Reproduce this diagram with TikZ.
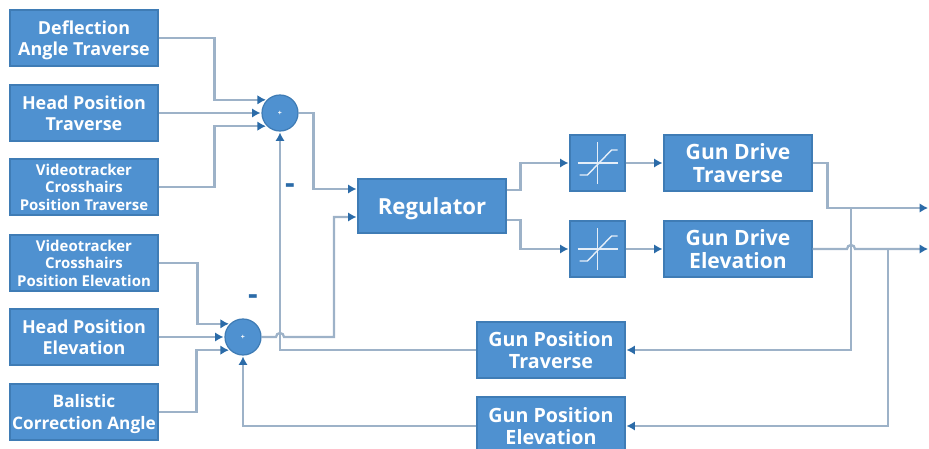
\documentclass[tikz,border=0pt]{standalone}
\usepackage{fontspec}
\setmainfont{Open Sans}
\usetikzlibrary{arrows.meta,calc}
\definecolor{blockfill}{HTML}{4F91D0}
\definecolor{blockedge}{HTML}{3F7CB5}
\definecolor{wire}{HTML}{9DB2C8}
\definecolor{tip}{HTML}{2B6BA8}
\tikzset{
  blockbox/.style={draw=blockedge,fill=blockfill,line width=0.7pt,text=white,align=center,minimum width=2.96cm,minimum height=1.12cm,inner sep=0pt,text depth=-2pt,font=\fontsize{10.2}{12.2}\selectfont\bfseries},
  smallbox/.style={blockbox,font=\fontsize{8.5}{9.9}\selectfont\bfseries},
  drivebox/.style={blockbox,font=\fontsize{12}{13.4}\selectfont\bfseries},
  posbox/.style={blockbox,font=\fontsize{11.2}{12.6}\selectfont\bfseries},
  satbox/.style={draw=blockedge,fill=blockfill,line width=0.7pt,minimum width=1.1cm,minimum height=1.12cm,inner sep=0pt},
  sumnode/.style={circle,draw=blockedge,fill=blockfill,line width=0.7pt,text=white,minimum size=0.72cm,inner sep=0pt,font=\fontsize{4}{4}\selectfont\bfseries},
  minuslabel/.style={text=tip,inner sep=0pt,font=\fontsize{17}{17}\selectfont\bfseries},
  link/.style={draw=wire,line width=1.3pt,-{Latex[length=1.7mm,width=1.9mm,color=tip]},shorten >=0.5pt},
  satline/.style={draw=white!85!blockfill,line width=0.8pt}
}
\begin{document}
\begin{tikzpicture}
  \useasboundingbox (0,0) rectangle (18.58,8.98);

  % Input column
  \node[blockbox] (deflection) at (1.68,8.22) {Deflection\\Angle Traverse};
  \node[blockbox] (headT) at (1.68,6.72) {Head Position\\Traverse};
  \node[smallbox] (videoT) at (1.68,5.24) {Videotracker\\Crosshairs\\Position Traverse};
  \node[smallbox] (videoE) at (1.68,3.72) {Videotracker\\Crosshairs\\Position Elevation};
  \node[blockbox] (headE) at (1.68,2.24) {Head Position\\Elevation};
  \node[blockbox,font=\fontsize{9.8}{12.2}\selectfont\bfseries] (balistic) at (1.68,0.74) {Balistic\\Correction Angle};

  % Summing points
  \node[sumnode] (sumT) at (5.6,6.72) {+};
  \node[sumnode] (sumE) at (4.86,2.24) {+};
  \node[minuslabel] (minusT) at (5.8,5.2) {-};
  \node[minuslabel] (minusE) at (5.06,2.98) {-};

  % Forward path
  \node[blockbox,minimum height=1.08cm,font=\fontsize{12.6}{14}\selectfont\bfseries] (regulator) at (8.64,4.86) {Regulator};
  \node[satbox] (satT) at (11.95,5.72) {};
  \node[satbox] (satE) at (11.95,4.0) {};
  \node[drivebox] (driveT) at (14.76,5.72) {Gun Drive\\Traverse};
  \node[drivebox] (driveE) at (14.76,4.0) {Gun Drive\\Elevation};

  % Feedback blocks
  \node[posbox] (posT) at (11.02,1.98) {Gun Position\\Traverse};
  \node[posbox,minimum height=1.16cm] (posE) at (11.02,0.46) {Gun Position\\Elevation};

  % Saturation icons
  \foreach \sat in {satT,satE} {
    \draw[satline] ($(\sat)+(0,-0.42)$) -- ($(\sat)+(0,0.42)$);
    \draw[satline] ($(\sat)+(-0.4,0)$) -- ($(\sat)+(0.4,0)$);
    \draw[satline] ($(\sat)+(-0.36,-0.24)$) -- ($(\sat)+(-0.2,-0.24)$) -- ($(\sat)+(0.28,0.26)$) -- ($(\sat)+(0.4,0.26)$);
  }

  % Free ends and branch points
  \coordinate (outT) at (18.58,4.82);
  \coordinate (outE) at (18.58,4.0);
  \coordinate (tapT) at (17.02,4.82);
  \coordinate (tapE) at (17.76,4.0);
  \coordinate (jumpE) at (5.6,2.24);
  \coordinate (jumpT) at (17.02,4.0);

  % Inputs to summing points
  \draw[link] (deflection.east) -- ++(1.12,0) |- (sumT.135);
  \draw[link] (headT.east) -- (sumT.west);
  \draw[link] (videoT.east) -- ++(1.12,0) |- (sumT.225);
  \draw[link] (videoE.east) -- ++(0.78,0) |- (sumE.135);
  \draw[link] (headE.east) -- (sumE.west);
  \draw[link] (balistic.east) -- ++(0.76,0) |- (sumE.225);

  % Into the regulator
  \draw[link] (sumT.east) -- ++(0.3,0) |- ($(regulator.west)+(0,0.34)$);
  \draw[link] (sumE.east) -- ([xshift=-0.08cm]jumpE) arc[start angle=180,end angle=0,radius=0.08cm] -- (6.68,2.24) |- ($(regulator.west)+(0,-0.22)$);

  % Regulator to the gun drives
  \draw[link] ($(regulator.east)+(0,0.32)$) -- ++(0.28,0) |- (satT.west);
  \draw[link] ($(regulator.east)+(0,-0.28)$) -- ++(0.28,0) |- (satE.west);
  \draw[link] (satT.east) -- (driveT.west);
  \draw[link] (satE.east) -- (driveE.west);

  % Outputs
  \draw[link] (driveT.east) -- ++(0.3,0) |- (outT);
  \draw[link] (driveE.east) -- ([xshift=-0.08cm]jumpT) arc[start angle=180,end angle=0,radius=0.08cm] -- (outE);

  % Feedback
  \draw[link] (tapT) |- (posT.east);
  \draw[link] (tapE) |- (posE.east);
  \draw[link] (posT.west) -| (sumT.south);
  \draw[link] (posE.west) -| (sumE.south);
\end{tikzpicture}
\end{document}
